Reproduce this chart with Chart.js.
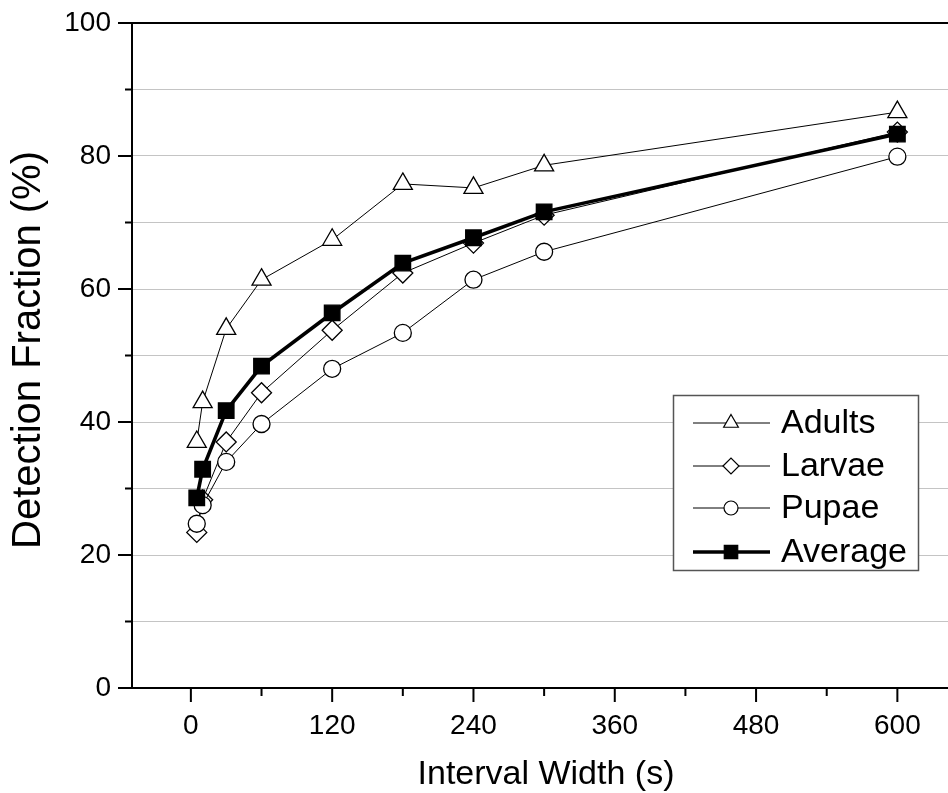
<!DOCTYPE html>
<html><head><meta charset="utf-8">
<script src="https://cdn.jsdelivr.net/npm/chart.js@4"></script>
<style>html,body{margin:0;padding:0;background:#fff;overflow:hidden}#wrap{width:948px;height:793px;position:relative}</style>
</head><body><div id="wrap"><canvas id="c" width="948" height="793"></canvas></div>
<script>
// ---- data ----
const intervals = [5, 10, 30, 60, 120, 180, 240, 300, 600];
const adults  = [37.0, 43.0, 54.0, 61.4, 67.4, 75.8, 75.2, 78.6, 86.6];
const larvae  = [23.4, 28.3, 37.0, 44.4, 53.8, 62.4, 66.9, 71.1, 83.6];
const pupae   = [24.7, 27.5, 34.0, 39.7, 48.0, 53.4, 61.4, 65.6, 79.9];
const average = [28.6, 32.9, 41.7, 48.4, 56.4, 63.9, 67.7, 71.6, 83.3];
const seriesNames = ['Adults', 'Larvae', 'Pupae', 'Average'];
const xTickValues = [0, 60, 120, 180, 240, 300, 360, 420, 480, 540, 600];
const xTickLabels = [0, 120, 240, 360, 480, 600];
const yTickValues = [0, 10, 20, 30, 40, 50, 60, 70, 80, 90, 100];
const yTickLabels = [0, 20, 40, 60, 80, 100];
const xTitle = 'Interval Width (s)';
const yTitle = 'Detection Fraction (%)';

const FONT = '"Liberation Sans", Arial, sans-serif';
const pts = arr => intervals.map((x, i) => ({x: x, y: arr[i]}));

const styles = [
  {style: 'triangle', r: 11, lr: 8.5, fill: '#fff', lw: 1},
  {style: 'rectRot', r: 10, lr: 8, fill: '#fff', lw: 1},
  {style: 'circle', r: 8.5, lr: 7, fill: '#fff', lw: 1},
  {style: 'rect', r: 11, lr: 9.5, fill: '#000', lw: 3.6}
];
const seriesData = [adults, larvae, pupae, average];

const datasets = seriesData.map((arr, i) => ({
  label: seriesNames[i],
  data: pts(arr),
  borderColor: '#000',
  borderWidth: styles[i].lw,
  pointStyle: styles[i].style,
  pointRadius: styles[i].r,
  pointBorderWidth: 1.3,
  pointBorderColor: '#000',
  pointBackgroundColor: styles[i].fill,
  tension: 0,
  fill: false,
  clip: false,
  order: 3 - i
}));

function drawMarker(ctx, style, x, y, r, fill) {
  ctx.save();
  ctx.beginPath();
  if (style === 'triangle') {
    ctx.moveTo(x, y - r);
    ctx.lineTo(x + Math.sin(2*Math.PI/3) * r, y - Math.cos(2*Math.PI/3) * r);
    ctx.lineTo(x + Math.sin(4*Math.PI/3) * r, y - Math.cos(4*Math.PI/3) * r);
    ctx.closePath();
  } else if (style === 'rectRot') {
    ctx.moveTo(x - r, y); ctx.lineTo(x, y - r); ctx.lineTo(x + r, y); ctx.lineTo(x, y + r); ctx.closePath();
  } else if (style === 'circle') {
    ctx.arc(x, y, r, 0, Math.PI * 2);
  } else {
    const s = r * Math.SQRT1_2;
    ctx.rect(x - s, y - s, 2 * s, 2 * s);
  }
  ctx.fillStyle = fill; ctx.fill();
  ctx.lineWidth = 1.2; ctx.strokeStyle = '#000'; ctx.stroke();
  ctx.restore();
}

function noPad(s) {
  s.paddingTop = 0; s.paddingBottom = 0; s.paddingLeft = 0; s.paddingRight = 0;
}

const decor = {
  id: 'decor',
  afterDatasetsDraw(chart) {
    const ctx = chart.ctx, a = chart.chartArea;
    const xs = chart.scales.x, ys = chart.scales.y;
    ctx.save();
    ctx.strokeStyle = '#000';
    ctx.lineWidth = 2;
    ctx.lineCap = 'butt';
    ctx.beginPath();
    ctx.moveTo(a.left - 14, a.top); ctx.lineTo(a.right, a.top);
    ctx.moveTo(a.left, a.top); ctx.lineTo(a.left, a.bottom + 1);
    ctx.moveTo(a.left - 14, a.bottom); ctx.lineTo(a.right, a.bottom);
    ctx.stroke();
    ctx.beginPath();
    yTickValues.forEach(v => {
      const y = ys.getPixelForValue(v);
      const len = yTickLabels.includes(v) ? 14 : 7;
      ctx.moveTo(a.left - len, y); ctx.lineTo(a.left, y);
    });
    xTickValues.forEach(v => {
      const x = xs.getPixelForValue(v);
      const len = xTickLabels.includes(v) ? 14 : 8;
      ctx.moveTo(x, a.bottom); ctx.lineTo(x, a.bottom + len);
    });
    ctx.stroke();
    ctx.restore();
  },
  afterDraw(chart) {
    const ctx = chart.ctx;
    ctx.save();
    ctx.fillStyle = '#000';
    ctx.textAlign = 'center';
    ctx.textBaseline = 'middle';
    ctx.font = '34px ' + FONT;
    ctx.fillText(xTitle, 546, 775);
    ctx.translate(29, 350);
    ctx.rotate(-Math.PI / 2);
    ctx.font = '40px ' + FONT;
    ctx.fillText(yTitle, 0, 0);
    ctx.restore();

    ctx.save();
    ctx.fillStyle = '#fff';
    ctx.fillRect(673, 395, 245, 175);
    ctx.strokeStyle = '#555';
    ctx.lineWidth = 1.5;
    ctx.strokeRect(673.5, 395.5, 245, 175);
    const rows = [423, 466, 508, 552];
    chart.data.datasets.forEach((ds, i) => {
      const y = rows[i];
      ctx.beginPath();
      ctx.moveTo(693, y); ctx.lineTo(770, y);
      ctx.strokeStyle = '#000';
      ctx.lineWidth = styles[i].lw;
      ctx.stroke();
      drawMarker(ctx, styles[i].style, 731, y, styles[i].lr, styles[i].fill);
      ctx.fillStyle = '#000';
      ctx.font = '34px ' + FONT;
      ctx.textAlign = 'left';
      ctx.textBaseline = 'middle';
      ctx.fillText(ds.label, 781, y + 1);
    });
    ctx.restore();
  }
};

new Chart(document.getElementById('c'), {
  type: 'line',
  data: {datasets: datasets},
  plugins: [decor],
  options: {
    responsive: false,
    animation: false,
    devicePixelRatio: 1,
    layout: {autoPadding: false, padding: {top: 23, left: 0, right: 0, bottom: 0}},
    plugins: {legend: {display: false}, tooltip: {enabled: false}},
    scales: {
      x: {
        type: 'linear',
        min: -50,
        max: 643,
        afterBuildTicks: s => { s.ticks = xTickValues.map(v => ({value: v})); },
        afterFit: s => { s.height = 105; noPad(s); },
        ticks: {
          autoSkip: false, maxRotation: 0, padding: 21, color: '#000',
          font: {family: FONT, size: 28},
          callback: v => xTickLabels.includes(v) ? String(v) : ''
        },
        grid: {display: false, drawTicks: false},
        border: {display: false}
      },
      y: {
        type: 'linear',
        min: 0,
        max: 100,
        afterBuildTicks: s => { s.ticks = yTickValues.map(v => ({value: v})); },
        afterFit: s => { s.width = 132; noPad(s); },
        ticks: {
          autoSkip: false, padding: 21, color: '#000',
          font: {family: FONT, size: 28},
          callback: v => yTickLabels.includes(v) ? String(v) : ''
        },
        grid: {
          drawTicks: false,
          lineWidth: 1,
          color: c => (c.tick && (c.tick.value === 0 || c.tick.value === 100)) ? 'rgba(0,0,0,0)' : '#c4c4c4'
        },
        border: {display: false}
      }
    }
  }
});
</script>
</body></html>
